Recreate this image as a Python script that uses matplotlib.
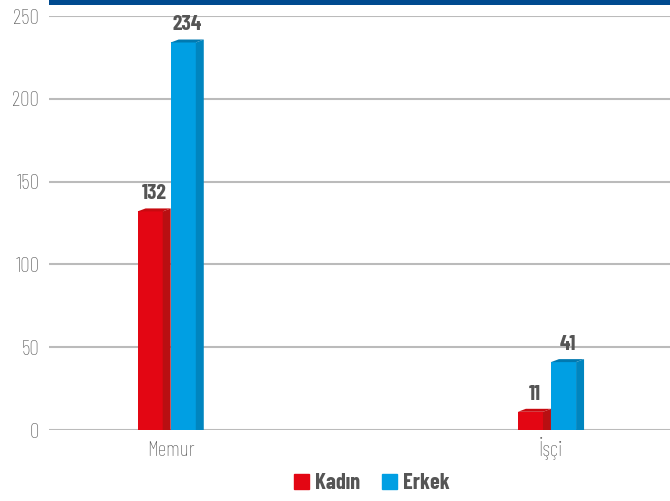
import matplotlib
matplotlib.use("Agg")
import matplotlib.pyplot as plt
from matplotlib.patches import Polygon, Rectangle
from matplotlib import font_manager

categories = ["Memur", "İşçi"]
series_names = ["Kadın", "Erkek"]
kadin = [132, 11]
erkek = [234, 41]
yticks = [0, 50, 100, 150, 200, 250]

names = {f.name for f in font_manager.fontManager.ttflist}
prefs = ["Barlow Condensed", "Roboto Condensed", "Barlow Semi Condensed", "Fira Sans Condensed",
         "PT Sans Narrow", "Archivo Narrow", "Open Sans Condensed",
         "Liberation Sans Narrow", "DejaVu Sans"]
fam = next(p for p in prefs if p in names)
plt.rcParams['font.family'] = [fam, 'DejaVu Sans']

front = ["#E30613", "#009FE3"]
side = ["#B80F12", "#0085BF"]
topc = ["#C80A10", "#0079B0"]

fig = plt.figure(figsize=(6.7, 5.01), dpi=100)
ax = fig.add_axes([49/670, 1-430/501, 1-49/670, (430-16)/501])
ax.set_xlim(-0.32, 1.313)
ax.set_ylim(0, 250)

w = 0.066
dx = 0.021
dy = 1.8
xs = list(range(len(categories)))
for si, vals in enumerate([kadin, erkek]):
    for xi, v in zip(xs, vals):
        x0 = xi - w - dx if si == 0 else xi
        ax.bar(x0, v, width=w, align='edge', color=front[si], zorder=3, linewidth=0)
        ax.add_patch(Polygon([(x0 + w, 0), (x0 + w + dx, 0), (x0 + w + dx, v + dy), (x0 + w, v)],
                             closed=True, facecolor=side[si], edgecolor='none', zorder=3))
        ax.add_patch(Polygon([(x0, v), (x0 + w, v), (x0 + w + dx, v + dy), (x0 + dx, v + dy)],
                             closed=True, facecolor=topc[si], edgecolor='none', zorder=3))
        ax.text(x0 + (w + dx) / 2, v + 5, str(v), ha='center', va='bottom',
                fontsize=15.5, fontweight='bold', color='#555555', zorder=4)

ax.set_yticks(yticks)
ax.set_yticklabels([str(t) for t in yticks], color='#606060', fontsize=15.5, fontweight='light')
ax.set_xticks(xs)
ax.set_xticklabels([])
for xi, c in zip(xs, categories):
    ax.text(xi, -16, c, ha='center', va='baseline', color='#606060', fontsize=15.5,
            fontweight='light')
ax.tick_params(axis='both', length=0)
ax.tick_params(axis='y', pad=7)
ax.grid(axis='y', color='#BBBBBB', linewidth=1.5, zorder=0)
ax.set_axisbelow(True)
for s in ax.spines.values():
    s.set_visible(False)

fig.patches.append(Rectangle((49/670, 1-5/501), 1, 5/501, transform=fig.transFigure,
                             facecolor='#004A8F', edgecolor='none'))

handles = [Rectangle((0, 0), 1, 1, color=c) for c in front]
leg = fig.legend(handles, series_names, loc='center', bbox_to_anchor=(372/670, 1-483/501),
                 ncol=2, frameon=False, handlelength=0.68, handleheight=0.68,
                 handletextpad=0.25, columnspacing=1.0,
                 prop={'size': 16, 'weight': 'bold', 'family': [fam, 'DejaVu Sans']})
for t in leg.get_texts():
    t.set_color('#555555')

fig.savefig("out.png", dpi=100)
